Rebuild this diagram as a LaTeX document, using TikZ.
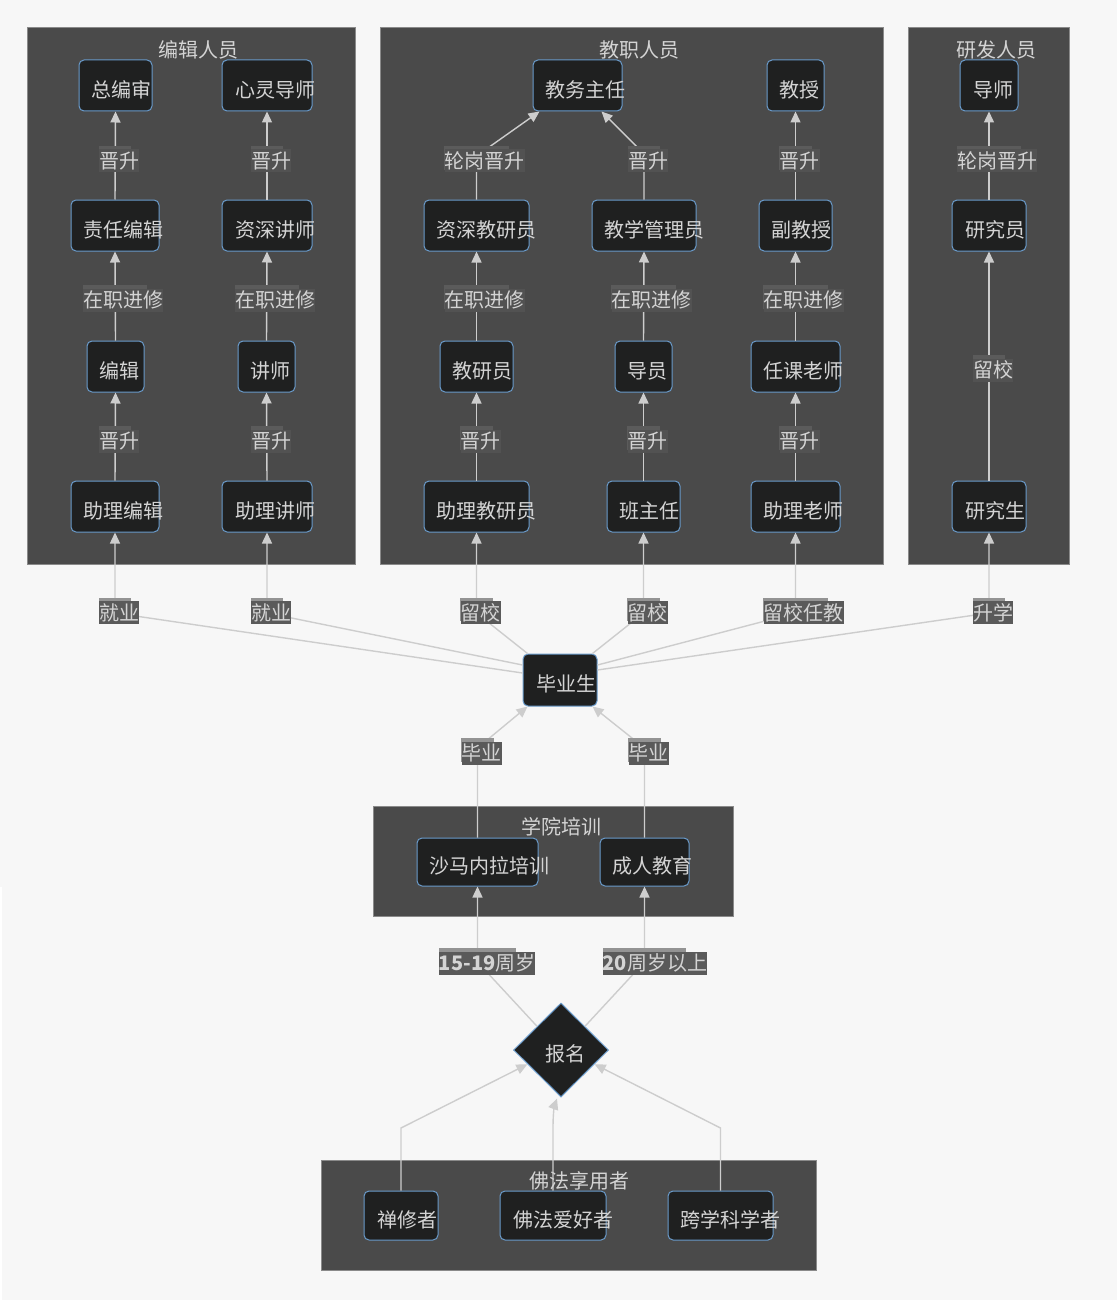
\documentclass[tikz,border=0pt]{standalone}
\usepackage{fontspec}
\setmainfont{Noto Sans CJK SC}
\usetikzlibrary{arrows.meta,calc,shapes.geometric}
\definecolor{bgc}{HTML}{F7F7F7}
\definecolor{clfill}{HTML}{4A4A4A}
\definecolor{cldraw}{HTML}{8A8A8A}
\definecolor{nfill}{HTML}{1F2020}
\definecolor{ndraw}{HTML}{6A9BCB}
\definecolor{ntext}{HTML}{D4D4D4}
\definecolor{edgec}{HTML}{CDCDCD}
\definecolor{outlblc}{HTML}{5A5A5A}
\definecolor{outhic}{HTML}{939393}
\definecolor{inlblc}{HTML}{525252}
\definecolor{inhic}{HTML}{5B5B5B}
\newcommand\fnt{\fontsize{20}{24}\selectfont}
\tikzset{
  cl/.style={fill=clfill, draw=cldraw, line width=0.8pt},
  cltitle/.style={text=ntext, font=\fnt, inner sep=0, text height=19.1pt, text depth=3.9pt},
  bx/.style={rectangle, rounded corners=5pt, fill=nfill, draw=ndraw, line width=1pt, inner sep=0},
  btxt/.style={text=ntext, font=\fnt, inner sep=0, text height=19.1pt, text depth=3.9pt},
  conn/.style={draw=edgec, line width=1.4pt, -{Triangle[length=11pt,width=10pt]}},
  inhi/.style={fill=inhic},
  outhi/.style={fill=outhic},
  inlbl/.style={fill=inlblc, text=ntext, font=\fnt, inner sep=0, text height=19.1pt, text depth=3.9pt},
  outlbl/.style={fill=outlblc, text=ntext, font=\fnt, inner sep=0, text height=19.1pt, text depth=3.9pt},
}
% box: name, x1, x2, y1, y2, text
\newcommand{\bx}[6]{%
  \node[bx, minimum width={#3-#2}, minimum height={#5-#4}] (#1) at ({(#2+#3)/2},{(#4+#5)/2}) {};
  \node[btxt, yshift=-4pt] (#1m) at (#1.center) {\phantom{#6}};
  \node[btxt] (#1t) at ($(#1m.west)!0.6!(#1m.east)$) {#6};}
% edge label: style, name, x, y, text
\newcommand{\elab}[5]{%
  \node[#1lbl, fill=none] (#2m) at (#3,#4) {\phantom{#5}};
  \fill[#1hi] ($(#2m.north west)!0.1!(#2m.north east)+(0,-3)$) rectangle ($(#2m.south west)!0.9!(#2m.south east)+(0,-3)$);
  \node[#1lbl, anchor=west] (#2) at ($(#2m.west)!0.1!(#2m.east)$) {#5};}
\begin{document}
\begin{tikzpicture}[x=1pt,y=-1pt]
\useasboundingbox (0,0) rectangle (1117,1300);
\fill[bgc] (0,0) rectangle (1117,1300);
\fill[white] (0,887) rectangle (2,1300);

% clusters
\draw[cl] (27,27) rectangle (355,564);
\draw[cl] (380,27) rectangle (883,564);
\draw[cl] (908,27) rectangle (1069,564);
\draw[cl] (373,806) rectangle (733,916);
\draw[cl] (321,1160) rectangle (816,1270);
\node[cltitle] (t1) at (198.5,50) {编辑人员};
\node[cltitle] (t2) at (639.5,50) {教职人员};
\node[cltitle] (t3) at (996.5,50) {研发人员};
\node[cltitle] (t4) at (561,827) {学院培训};
\node[cltitle] (t5) at (579,1181) {佛法享用者};

% boxes
\bx{zbs}{79}{152}{60}{111}{总编审}
\bx{xlds}{222}{312}{60}{111}{心灵导师}
\bx{zrbj}{71}{159}{200}{251}{责任编辑}
\bx{zsjs}{222}{312}{200}{251}{资深讲师}
\bx{bj}{87}{144}{341}{392}{编辑}
\bx{js}{238}{295}{341}{392}{讲师}
\bx{zlbj}{71}{159}{481}{532}{助理编辑}
\bx{zljs}{222}{312}{481}{532}{助理讲师}

\bx{jwzr}{533}{622}{60}{111}{教务主任}
\bx{jsou}{767}{824}{60}{111}{教授}
\bx{zsjyy}{424}{529}{200}{251}{资深教研员}
\bx{jxgly}{592}{696}{200}{251}{教学管理员}
\bx{fjs}{759}{832}{200}{251}{副教授}
\bx{jyy}{440}{513}{341}{392}{教研员}
\bx{dy}{615}{672}{341}{392}{导员}
\bx{rkls}{751}{840}{341}{392}{任课老师}
\bx{zljyy}{424}{529}{481}{532}{助理教研员}
\bx{bzr}{607}{680}{481}{532}{班主任}
\bx{zlls}{751}{840}{481}{532}{助理老师}

\bx{ds}{960}{1018}{60}{111}{导师}
\bx{yjy}{952}{1026}{200}{251}{研究员}
\bx{yjs}{952}{1026}{481}{532}{研究生}

\bx{gr}{523}{597}{654}{706}{毕业生}
\bx{smnl}{417}{538}{838}{886}{沙马内拉培训}
\bx{crjy}{600}{689}{838}{886}{成人教育}
\bx{csz}{364}{438}{1191}{1240}{禅修者}
\bx{fahz}{500}{606}{1191}{1240}{佛法爱好者}
\bx{kxkxz}{668}{773}{1191}{1240}{跨学科学者}

\node[diamond, fill=nfill, draw=ndraw, line width=1pt, minimum width=95, minimum height=94, inner sep=0] (bm) at (561,1050) {};
\node[btxt, yshift=-4pt] (bmm) at (bm.center) {\phantom{报名}};
\node[btxt] (bmt) at ($(bmm.west)!0.6!(bmm.east)$) {报名};

% coordinates
\coordinate (b1) at (476.5,156);
\coordinate (t1a) at ($(jwzr.south west)+(7,0)$);
\coordinate (b2) at (644,154);
\coordinate (t2a) at ($(jwzr.south east)+(-21,0)$);
\coordinate (g1) at ($(gr.west)+(0,-7)$);
\coordinate (g2) at ($(gr.west)+(0,-15)$);
\coordinate (g3) at ($(gr.north west)+(5,0)$);
\coordinate (g4) at ($(gr.north east)+(-5,0)$);
\coordinate (g5) at ($(gr.east)+(0,-15)$);
\coordinate (g6) at ($(gr.east)+(0,-10)$);
\coordinate (j1) at (115,613);
\coordinate (j2) at (267,613);
\coordinate (j3) at (476.5,613);
\coordinate (j4) at (643.5,613);
\coordinate (j5) at (795.5,613);
\coordinate (j6) at (989,613);
\coordinate (m1) at (477.5,748);
\coordinate (m1t) at ($(gr.south west)+(5,0)$);
\coordinate (m2) at (644.5,748);
\coordinate (m2t) at ($(gr.south east)+(-5,0)$);
\coordinate (q1) at (477.5,962);
\coordinate (q2) at (644.5,962);
\coordinate (p1) at (401,1128);
\coordinate (p2) at (553,1128);
\coordinate (p3) at (720.5,1128);
\coordinate (d1) at ($(bm.west)!0.3!(bm.south)$);
\coordinate (d3) at ($(bm.east)!0.3!(bm.south)$);
\coordinate (d2) at ($(bm.south)+(-4,1)$);

% edges in clusters
\draw[conn] (zrbj.north) -- (zbs.south);
\draw[conn] (zsjs.north) -- (xlds.south);
\draw[conn] (bj.north) -- (zrbj.south);
\draw[conn] (js.north) -- (zsjs.south);
\draw[conn] (zlbj.north) -- (bj.south);
\draw[conn] (zljs.north) -- (js.south);
\draw[conn] (zsjyy.north) -- (b1) -- (t1a);
\draw[conn] (jxgly.north) -- (b2) -- (t2a);
\draw[conn] (fjs.north) -- (jsou.south);
\draw[conn] (jyy.north) -- (zsjyy.south);
\draw[conn] (dy.north) -- (jxgly.south);
\draw[conn] (rkls.north) -- (fjs.south);
\draw[conn] (zljyy.north) -- (jyy.south);
\draw[conn] (bzr.north) -- (dy.south);
\draw[conn] (zlls.north) -- (rkls.south);
\draw[conn] (yjy.north) -- (ds.south);
\draw[conn] (yjs.north) -- (yjy.south);

% edges from graduates
\draw[conn] (g1) -- (j1) -- (zlbj.south);
\draw[conn] (g2) -- (j2) -- (zljs.south);
\draw[conn] (g3) -- (j3) -- (zljyy.south);
\draw[conn] (g4) -- (j4) -- (bzr.south);
\draw[conn] (g5) -- (j5) -- (zlls.south);
\draw[conn] (g6) -- (j6) -- (yjs.south);

% training to graduates
\draw[conn] (smnl.north) -- (m1) -- (m1t);
\draw[conn] (crjy.north) -- (m2) -- (m2t);

% enrollment to training
\draw[conn] (bm.north west) -- (q1) -- (smnl.south);
\draw[conn] (bm.north east) -- (q2) -- (crjy.south);

% users to enrollment
\draw[conn] (csz.north) -- (p1) -- (d1);
\draw[conn] (fahz.north) -- (p2) .. controls (553,1110) and (555,1104) .. (d2);
\draw[conn] (kxkxz.north) -- (p3) -- (d3);

% labels
\elab{in}{la1}{115}{161}{晋升}
\elab{in}{la2}{267}{161}{晋升}
\elab{in}{la3}{115}{300}{在职进修}
\elab{in}{la4}{267}{300}{在职进修}
\elab{in}{la5}{115}{441}{晋升}
\elab{in}{la6}{267}{441}{晋升}

\elab{in}{lb1}{476.5}{161}{轮岗晋升}
\elab{in}{lb2}{644}{161}{晋升}
\elab{in}{lb3}{795.5}{161}{晋升}
\elab{in}{lb4}{476.5}{300}{在职进修}
\elab{in}{lb5}{643.5}{300}{在职进修}
\elab{in}{lb6}{795.5}{300}{在职进修}
\elab{in}{lb7}{476.5}{441}{晋升}
\elab{in}{lb8}{643.5}{441}{晋升}
\elab{in}{lb9}{795.5}{441}{晋升}

\elab{in}{lc1}{989}{161}{轮岗晋升}
\elab{in}{lc2}{989}{370}{留校}

\elab{out}{ld1}{115}{612.5}{就业}
\elab{out}{ld2}{267}{612.5}{就业}
\elab{out}{ld3}{476.5}{612.5}{留校}
\elab{out}{ld4}{643.5}{612.5}{留校}
\elab{out}{ld5}{795.5}{612.5}{留校任教}
\elab{out}{ld6}{989}{612.5}{升学}

\elab{out}{le1}{477.5}{753}{毕业}
\elab{out}{le2}{644.5}{753}{毕业}

\elab{out}{lf1}{477.5}{963}{{\bfseries 15-19}周岁}
\elab{out}{lf2}{644.5}{963}{{\bfseries 20}周岁以上}
\end{tikzpicture}
\end{document}
